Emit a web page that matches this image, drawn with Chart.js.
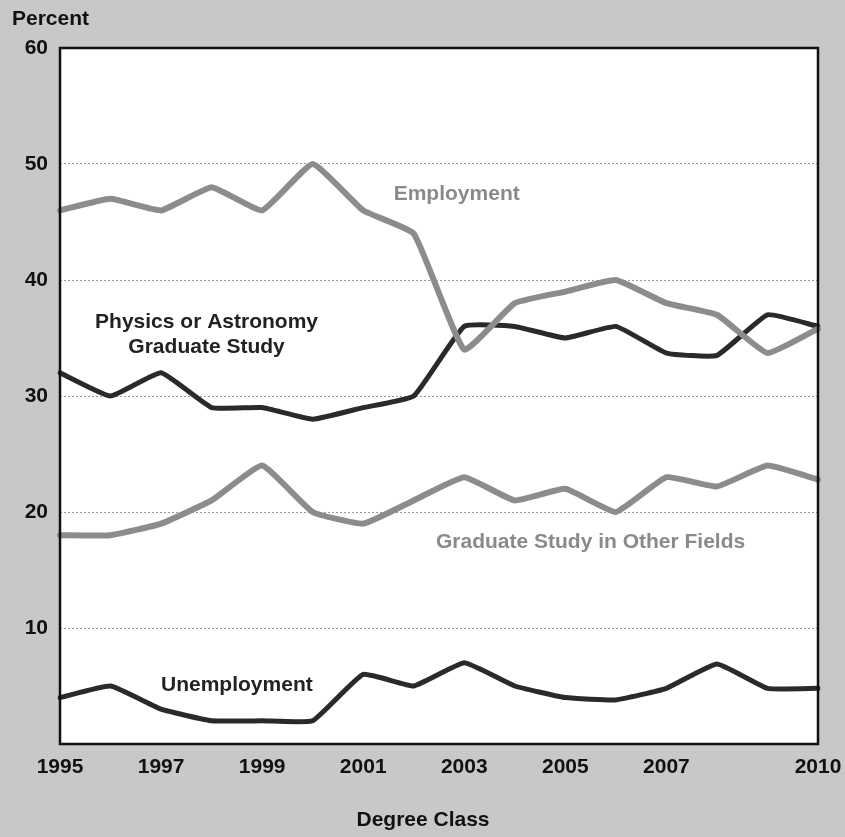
<!DOCTYPE html>
<html>
<head>
<meta charset="utf-8">
<script src="https://cdn.jsdelivr.net/npm/chart.js@4/dist/chart.umd.min.js"></script>
<style>
  html, body { margin: 0; padding: 0; background: #c8c8c8; }
  #wrap { width: 845px; height: 837px; }
</style>
</head>
<body>
<div id="wrap"><canvas id="myLineChart" width="845" height="837"></canvas></div>
<script>
var years = ['1995', '1996', '1997', '1998', '1999', '2000', '2001', '2002', '2003', '2004', '2005', '2006', '2007', '2008', '2009', '2010'];
var shownYears = ['1995', '1997', '1999', '2001', '2003', '2005', '2007', '2010'];
var yTicks = [10, 20, 30, 40, 50, 60];

var employment = [46, 47, 46, 48, 46, 50, 46, 44, 34, 38, 39, 40, 38, 37, 33.7, 35.8];
var physicsGrad = [32, 30, 32, 29, 29, 28, 29, 30, 36, 36, 35, 36, 33.7, 33.5, 37, 36];
var otherGrad = [18, 18, 19, 21, 24, 20, 19, 21, 23, 21, 22, 20, 23, 22.2, 24, 22.8];
var unemployment = [4, 5, 3, 2, 2, 2, 6, 5, 7, 5, 4, 3.8, 4.8, 6.9, 4.8, 4.8];

// series labels written inside the plot: text, year, value, colour
var seriesLabels = [
    { text: ['Employment'], x: 2002.85, y: 47.4, color: '#8a8a8a' },
    { text: ['Physics or Astronomy', 'Graduate Study'], x: 1997.9, y: 36.4, color: '#222' },
    { text: ['Graduate Study in Other Fields'], x: 2005.5, y: 17.4, color: '#8a8a8a' },
    { text: ['Unemployment'], x: 1998.5, y: 5.1, color: '#222' }
];

var FONT = '"Liberation Sans", Arial, sans-serif';

var labelPlugin = {
    id: 'labelPlugin',
    afterDatasetsDraw: function(chart) {
        var c = chart.ctx;
        var xs = chart.scales.x, ys = chart.scales.y;
        c.save();
        c.font = 'bold 21px ' + FONT;
        c.textAlign = 'center';
        c.textBaseline = 'middle';
        seriesLabels.forEach(function(l) {
            var x0 = xs.getPixelForValue(0), step = xs.getPixelForValue(1) - x0;
            var px = x0 + (l.x - 1995) * step;
            var py = ys.getPixelForValue(l.y);
            c.fillStyle = l.color;
            l.text.forEach(function(t, i) {
                c.fillText(t, px, py + i * 25);
            });
        });
        // plot frame
        var a = chart.chartArea;
        c.strokeStyle = '#111';
        c.lineWidth = 2.5;
        c.strokeRect(a.left, a.top, a.right - a.left, a.bottom - a.top);
        // axis titles
        c.fillStyle = '#111';
        c.font = 'bold 21px ' + FONT;
        c.textAlign = 'left';
        c.fillText('Percent', 12, 19);
        c.textAlign = 'center';
        c.fillText('Degree Class', 423, 820);
        c.restore();
    }
};

var bgPlugin = {
    id: 'bgPlugin',
    beforeDraw: function(chart) {
        var c = chart.ctx, a = chart.chartArea;
        c.save();
        c.fillStyle = '#c8c8c8';
        c.fillRect(0, 0, chart.width, chart.height);
        c.fillStyle = '#ffffff';
        c.fillRect(a.left, a.top, a.right - a.left, a.bottom - a.top);
        c.restore();
    }
};

function line(data, color, width) {
    return {
        data: data,
        borderColor: color,
        borderWidth: width,
        pointRadius: 0,
        tension: 0.12,
        fill: false,
        borderJoinStyle: 'round',
        borderCapStyle: 'round'
    };
}

var ctx = document.getElementById('myLineChart');
var myChart = new Chart(ctx, {
    type: 'line',
    data: {
        labels: years,
        datasets: [
            line(employment, '#8c8c8c', 6),
            line(otherGrad, '#8c8c8c', 6),
            line(physicsGrad, '#2a2a2a', 5),
            line(unemployment, '#2a2a2a', 5)
        ]
    },
    options: {
        responsive: false,
        animation: false,
        layout: { padding: { top: 48, right: 27, left: 0, bottom: 0 } },
        plugins: { legend: { display: false }, tooltip: { enabled: false } },
        scales: {
            x: {
                offset: false,
                grid: { display: false, drawTicks: false },
                border: { display: false },
                ticks: {
                    autoSkip: false,
                    maxRotation: 0,
                    padding: 11,
                    color: '#111',
                    font: { family: FONT, size: 21, weight: 'bold' },
                    callback: function(v) {
                        var y = years[v];
                        return shownYears.indexOf(y) >= 0 ? y : '';
                    }
                },
                afterFit: function(s) {
                    s.height = 93;
                    s.paddingLeft = 0;
                    s.paddingRight = 0;
                }
            },
            y: {
                min: 0,
                max: 60,
                afterBuildTicks: function(s) {
                    s.ticks = yTicks.map(function(v) { return { value: v }; });
                },
                grid: {
                    drawTicks: false,
                    color: function(c) { return c.tick.value === 60 ? 'rgba(0,0,0,0)' : '#9a9a9a'; },
                    lineWidth: 1
                },
                border: { display: false, dash: [2, 2] },
                ticks: {
                    padding: 12,
                    color: '#111',
                    font: { family: FONT, size: 21, weight: 'bold' }
                },
                afterFit: function(s) {
                    s.width = 60;
                    s.paddingTop = 0;
                    s.paddingBottom = 0;
                }
            }
        }
    },
    plugins: [bgPlugin, labelPlugin]
});
</script>
</body>
</html>
